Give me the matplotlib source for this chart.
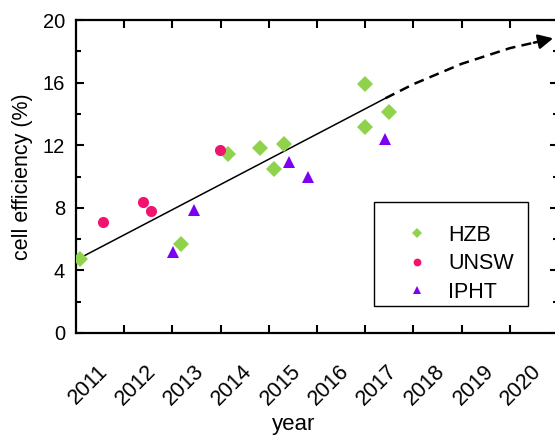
import matplotlib
matplotlib.use("Agg")
import matplotlib.pyplot as plt
import matplotlib.transforms as mtransforms
from matplotlib.patches import Rectangle
from matplotlib.ticker import MultipleLocator

# ----------------------------------------------------------------------
# data
# ----------------------------------------------------------------------
hzb_year = [2010.08, 2012.17, 2013.16, 2013.82, 2014.11, 2014.32, 2016.0, 2016.0, 2016.5]
hzb_eff = [4.7, 5.7, 11.45, 11.8, 10.5, 12.05, 15.9, 13.15, 14.15]

unsw_year = [2010.56, 2011.40, 2011.56, 2012.99]
unsw_eff = [7.1, 8.4, 7.8, 11.7]

ipht_year = [2012.02, 2012.44, 2014.41, 2014.82, 2016.42]
ipht_eff = [5.2, 7.85, 10.9, 10.0, 12.4]

trend_year = [2010.0, 2016.42]
trend_eff = [4.66, 15.0]

proj_year = [2016.42, 2017.0, 2017.5, 2018.0, 2018.5, 2019.0, 2019.5, 2019.9]
proj_eff = [15.0, 15.9, 16.55, 17.2, 17.7, 18.2, 18.55, 18.83]

year_ticks = [2011, 2012, 2013, 2014, 2015, 2016, 2017, 2018, 2019, 2020]
eff_ticks = [0, 4, 8, 12, 16, 20]

GREEN = "#8fd24c"
PINK = "#f01470"
PURPLE = "#7d00f0"

plt.rcParams["font.family"] = ["Liberation Sans", "DejaVu Sans"]

fig = plt.figure(figsize=(5.55, 4.37), dpi=100)
ax = fig.add_axes([76 / 555, (437 - 333) / 437, 482 / 555, 313 / 437])

# fitted trend + dashed projection with arrow head
ax.plot(trend_year, trend_eff, color="black", lw=1.1, zorder=2)
ax.plot(proj_year[:-1], proj_eff[:-1], color="black", lw=1.8,
        dashes=(4, 2.5), zorder=2)
ax.annotate("", xy=(proj_year[-1], proj_eff[-1]),
            xytext=(proj_year[-2], proj_eff[-2]),
            arrowprops=dict(arrowstyle="-|>", color="black", lw=1.8,
                            mutation_scale=22, shrinkA=0, shrinkB=0),
            zorder=3)

ax.plot(hzb_year, hzb_eff, "D", color=GREEN, ms=8, mew=0, label="HZB", zorder=4)
ax.plot(unsw_year, unsw_eff, "o", color=PINK, ms=8, mew=0, label="UNSW", zorder=4)
ax.plot(ipht_year, ipht_eff, "^", color=PURPLE, ms=8.5, mew=0, label="IPHT", zorder=4)

ax.set_xlim(2010, 2020)
ax.set_ylim(0, 20)
ax.set_xticks(year_ticks)
ax.set_xticklabels([str(y) for y in year_ticks], rotation=45, ha="right", va="top")
ax.set_yticks(eff_ticks)
ax.yaxis.set_minor_locator(MultipleLocator(2))

ax.tick_params(axis="both", which="both", direction="in", top=True, right=True,
               width=1.5)
ax.tick_params(axis="both", which="major", length=6)
ax.tick_params(axis="both", which="minor", length=3.5)
ax.tick_params(axis="x", pad=20, labelsize=15.5)
ax.tick_params(axis="y", pad=8, labelsize=14.5)

for sp in ax.spines.values():
    sp.set_linewidth(1.6)

# shift the rotated year labels a bit to the left, as in the original
shift = mtransforms.ScaledTranslation(-12 / 100, 0, fig.dpi_scale_trans)
for lab in ax.get_xticklabels():
    lab.set_transform(lab.get_transform() + shift)

ax.set_xlabel("year", fontsize=16, va="baseline")
ax.xaxis.set_label_coords(0.452, -0.31)
ax.set_ylabel("cell efficiency (%)", fontsize=15.5)
ax.yaxis.set_label_coords(-0.089, 0.5)

# legend entries without frame, frame drawn separately
leg = ax.legend(loc="upper left", bbox_to_anchor=(0.685, 0.345),
                fontsize=15.5, frameon=False, markerscale=0.7,
                handlelength=1.0, handletextpad=0.94,
                labelspacing=0.34, borderpad=0, borderaxespad=0)
ax.add_patch(Rectangle((0.618, 0.0863), 0.938 - 0.618, 0.4185 - 0.0863,
                       transform=ax.transAxes, fill=False, edgecolor="black",
                       lw=1.0, zorder=5))

fig.savefig("out.png", dpi=100)
